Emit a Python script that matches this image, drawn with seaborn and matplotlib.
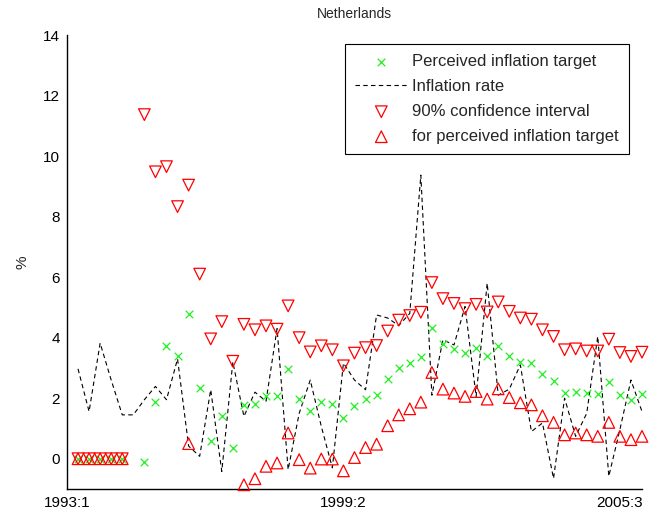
import matplotlib
matplotlib.use("Agg")
import numpy as np
import pandas as pd
import matplotlib.pyplot as plt
import seaborn as sns

nan = np.nan

# quarters counted from 1993:1 (=0); data runs 1993:2 .. 2006:1
quarter = list(range(1, 53))

inflation_rate = [2.97, 1.56, 3.82, 2.6, 1.45, 1.45, 1.95, 2.39, 1.95, 3.3,
                  0.42, 0.08, 2.28, -0.42, 3.2, 1.4, 2.2, 1.9, 4.3, -0.36,
                  1.5, 2.6, 1.07, -0.3, 3.16, 2.6, 2.28, 4.75, 4.65, 4.4,
                  4.8, 9.37, 2.1, 3.93, 3.76, 5.03, 2.06, 5.8, 2.1, 2.3,
                  3.1, 0.9, 1.18, -0.65, 2.0, 0.74, 1.5, 4.04, -0.58, 0.96,
                  2.6, 1.56]

perceived_target = [0, 0, 0, 0, 0, nan, -0.12, 1.86, 3.74, 3.38,
                    4.78, 2.33, 0.59, 1.42, 0.35, 1.77, 1.81, 2.06, 2.06, 2.95,
                    1.97, 1.59, 1.89, 1.8, 1.33, 1.75, 1.99, 2.11, 2.63, 2.99,
                    3.17, 3.35, 4.31, 3.78, 3.64, 3.49, 3.65, 3.38, 3.74, 3.41,
                    3.2, 3.16, 2.81, 2.58, 2.17, 2.2, 2.17, 2.13, 2.52, 2.11,
                    1.93, 2.13]

ci_upper = [0, 0, 0, 0, 0, nan, 11.37, 9.48, 9.65, 8.33,
            9.04, 6.1, 3.96, 4.53, 3.22, 4.44, 4.26, 4.39, 4.28, 5.05,
            4.0, 3.53, 3.73, 3.6, 3.07, 3.49, 3.67, 3.74, 4.22, 4.58,
            4.73, 4.84, 5.82, 5.29, 5.13, 4.96, 5.1, 4.85, 5.18, 4.87,
            4.65, 4.61, 4.26, 4.04, 3.6, 3.63, 3.56, 3.56, 3.95, 3.51,
            3.38, 3.52]

# nan = below the visible range
ci_lower = [0, 0, 0, 0, 0, nan, nan, nan, nan, nan,
            0.5, nan, nan, nan, nan, -0.86, -0.66, -0.25, -0.14, 0.85,
            -0.03, -0.31, -0.01, -0.01, -0.4, 0.04, 0.37, 0.48, 1.09, 1.45,
            1.65, 1.87, 2.85, 2.3, 2.17, 2.06, 2.22, 1.97, 2.31, 2.02,
            1.85, 1.78, 1.42, 1.2, 0.79, 0.85, 0.79, 0.74, 1.2, 0.74,
            0.63, 0.74]

tick_labels = ["1993:1", "", "", "", "", "1999:2", "", "", "", "", "2005:3"]

df = pd.DataFrame({
    "quarter": quarter,
    "inflation": inflation_rate,
    "perceived": perceived_target,
    "upper": ci_upper,
    "lower": ci_lower,
})

sns.set_style("white")
plt.rcParams["font.family"] = ["Liberation Sans", "DejaVu Sans"]

fig = plt.figure(figsize=(6.67, 5.21), dpi=100)
ax = fig.add_axes([0.1004, 0.0614, 0.8621, 0.8714])

sns.scatterplot(data=df, x="quarter", y="perceived", marker="x", color="#22ee22",
                s=30, linewidth=0.9, clip_on=False, zorder=3,
                label="Perceived inflation target", ax=ax)
sns.lineplot(data=df, x="quarter", y="inflation", color="black", linewidth=0.8,
             linestyle=(0, (4.0, 3.0)), estimator=None, errorbar=None,
             label="Inflation rate", ax=ax)
sns.scatterplot(data=df, x="quarter", y="upper", marker="v", s=70,
                color="red", facecolor="none", edgecolor="red", linewidth=0.9,
                clip_on=False, zorder=4, label="90% confidence interval", ax=ax)
sns.scatterplot(data=df, x="quarter", y="lower", marker="^", s=70,
                color="red", facecolor="none", edgecolor="red", linewidth=0.9,
                clip_on=False, zorder=4, label="for perceived inflation target", ax=ax)

ax.set_xlim(0, 52)
ax.set_ylim(-1, 14)
ax.set_xticks(range(0, 51, 5))
ax.set_xticklabels(tick_labels)
ax.set_yticks(range(0, 15, 2))
ax.tick_params(direction="in", length=4.5, width=1, labelsize=11, pad=5,
               colors="black")
for side in ["top", "right"]:
    ax.spines[side].set_visible(False)
for side in ["left", "bottom"]:
    ax.spines[side].set_color("black")
    ax.spines[side].set_linewidth(1.0)

ax.set_xlabel("")
ax.set_ylabel("%", fontsize=11, labelpad=10)
ax.set_title("Netherlands", fontsize=10, pad=12)

handles, labels = ax.get_legend_handles_labels()
leg = ax.legend(handles, labels, loc="upper right", bbox_to_anchor=(0.977, 0.980),
                fontsize=12, frameon=True, fancybox=False, framealpha=1,
                edgecolor="black", handlelength=3.1, handletextpad=0.3,
                labelspacing=0.6, borderpad=0.6, scatterpoints=1,
                borderaxespad=0)
leg.get_frame().set_linewidth(0.8)

fig.savefig("out.png", dpi=100)
